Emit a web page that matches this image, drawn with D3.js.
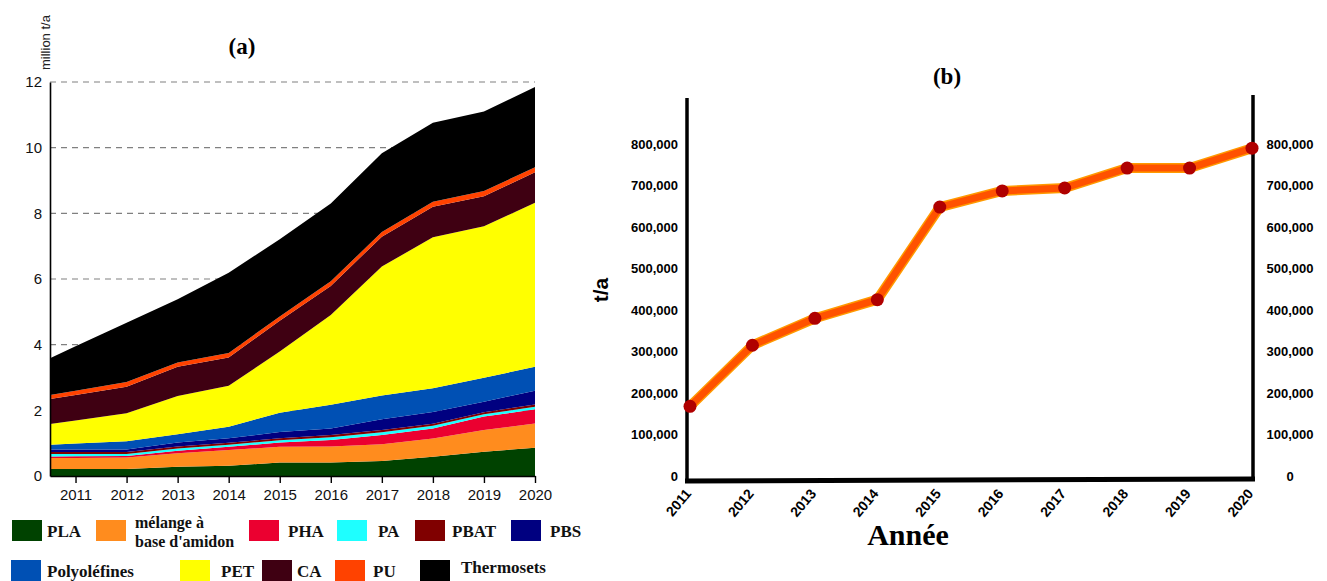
<!DOCTYPE html>
<html>
<head>
<meta charset="utf-8">
<script src="https://cdn.jsdelivr.net/npm/d3@7"></script>
<style>
  body { margin: 0; background: #fff; }
  svg { display: block; }
</style>
</head>
<body>
<div id="viz"></div>
<script>
// ── DATA ─────────────────────────────────────────────────────────────────────
const years = [2011, 2012, 2013, 2014, 2015, 2016, 2017, 2018, 2019, 2020];

// panel (a): million t/a, stacked from the bottom
const PLA        = [0.21, 0.21, 0.28, 0.31, 0.41, 0.41, 0.46, 0.59, 0.74, 0.86];
const starch     = [0.34, 0.35, 0.41, 0.48, 0.48, 0.49, 0.51, 0.55, 0.66, 0.74];
const PHA        = [0.05, 0.05, 0.08, 0.10, 0.13, 0.20, 0.28, 0.31, 0.41, 0.43];
const PA         = [0.07, 0.06, 0.07, 0.06, 0.07, 0.08, 0.08, 0.08, 0.07, 0.08];
const PBAT       = [0.06, 0.06, 0.06, 0.06, 0.06, 0.07, 0.07, 0.06, 0.06, 0.07];
const PBS        = [0.08, 0.08, 0.12, 0.14, 0.19, 0.20, 0.33, 0.36, 0.32, 0.42];
const polyolef   = [0.18, 0.25, 0.25, 0.35, 0.59, 0.72, 0.72, 0.72, 0.73, 0.73];
const PET        = [0.70, 0.85, 1.17, 1.25, 1.86, 2.73, 3.93, 4.60, 4.62, 4.99];
const CA         = [0.78, 0.81, 0.89, 0.86, 0.94, 0.89, 0.91, 0.93, 0.91, 0.93];
const PU         = [0.13, 0.14, 0.13, 0.14, 0.13, 0.14, 0.14, 0.15, 0.16, 0.15];
const thermosets = [1.35, 1.81, 1.92, 2.44, 2.35, 2.37, 2.40, 2.41, 2.42, 2.45];

const seriesKeys   = ["PLA", "starch", "PHA", "PA", "PBAT", "PBS", "polyolef", "PET", "CA", "PU", "thermosets"];
const seriesValues = [PLA, starch, PHA, PA, PBAT, PBS, polyolef, PET, CA, PU, thermosets];
const seriesColors = ["#004200", "#ff8c1e", "#eb0030", "#1effff", "#800000", "#000080",
                      "#0050b4", "#ffff00", "#3f0012", "#ff4200", "#000000"];
const legendLabels = ["PLA", "mélange à|base d'amidon", "PHA", "PA", "PBAT", "PBS",
                      "Polyoléfines", "PET", "CA", "PU", "Thermosets"];
const yTicksA = [0, 2, 4, 6, 8, 10, 12];

// panel (b): t/a
const production = [168000, 315000, 380000, 425000, 648000, 687000, 694000, 742000, 742000, 790000];
const yTicksB = [0, 100000, 200000, 300000, 400000, 500000, 600000, 700000, 800000];

// ── SETTINGS ────────────────────────────────────────────────────────────────
const width = 1327, height = 581;
const svg = d3.select("#viz").append("svg")
    .attr("viewBox", [0, 0, width, height])
    .attr("width", width)
    .attr("height", height);

const sans = "'Liberation Sans', Arial, sans-serif";
const serif = "'Liberation Serif', 'Times New Roman', serif";

// ── PANEL (a) ───────────────────────────────────────────────────────────────
const xA = d3.scaleLinear().domain([2010.5, 2020]).range([50, 535]);
const yA = d3.scaleLinear().domain([0, 12]).range([476, 82]);

// dashed grid
svg.append("g")
  .selectAll("line")
  .data(yTicksA.filter(d => d > 0))
  .join("line")
    .attr("x1", xA(2010.5)).attr("x2", xA(2020))
    .attr("y1", d => yA(d)).attr("y2", d => yA(d))
    .attr("stroke", "#808080")
    .attr("stroke-width", 1.2)
    .attr("stroke-dasharray", "6,5");

const rows = years.map((yr, i) => {
  const r = { year: yr };
  seriesKeys.forEach((k, j) => r[k] = seriesValues[j][i]);
  return r;
});
const stacked = d3.stack().keys(seriesKeys)(rows);

// the plot starts half a year before 2011, the band is carried on to the axis
const layers = stacked.map(s => {
  const pts = s.map(d => ({ x: d.data.year, lo: d[0], hi: d[1] }));
  const a = pts[0], b = pts[1];
  pts.unshift({ x: 2010.5, lo: a.lo - (b.lo - a.lo) / 2, hi: a.hi - (b.hi - a.hi) / 2 });
  return pts;
});

const area = d3.area()
    .x(d => xA(d.x))
    .y0(d => yA(d.lo))
    .y1(d => yA(d.hi));

svg.append("g")
  .selectAll("path")
  .data(layers)
  .join("path")
    .attr("d", area)
    .attr("fill", (d, i) => seriesColors[i]);

// axes
svg.append("g")
    .attr("transform", `translate(0,${yA(0)})`)
    .call(d3.axisBottom(xA).tickValues(years).tickFormat(d3.format("d")).tickSize(7).tickSizeOuter(0))
    .call(g => g.select(".domain").attr("stroke-width", 1.6))
    .call(g => g.selectAll(".tick line").attr("stroke-width", 1.4))
    .call(g => g.selectAll("text").attr("font-family", sans).attr("font-size", 15)
                .attr("fill", "#111").attr("dy", "0.9em"));

svg.append("g")
    .attr("transform", `translate(${xA(2010.5)},0)`)
    .call(d3.axisLeft(yA).tickValues(yTicksA).tickSize(0).tickPadding(8).tickSizeOuter(0))
    .call(g => g.select(".domain").attr("stroke-width", 1.6))
    .call(g => g.selectAll("text").attr("font-family", sans).attr("font-size", 15).attr("fill", "#111"));

svg.append("text")
    .attr("transform", "translate(50,70) rotate(-90)")
    .attr("font-family", sans)
    .attr("font-size", 13)
    .attr("fill", "#222")
    .text("million t/a");

svg.append("text")
    .attr("x", 242).attr("y", 54)
    .attr("text-anchor", "middle")
    .attr("font-family", serif)
    .attr("font-weight", "bold")
    .attr("font-size", 23)
    .text("(a)");

// legend
const legendLayout = [
  [12, 47, 0], [96, 135, 0], [249, 288, 0], [337, 378, 0], [415, 452, 0], [511, 550, 0],
  [11, 47, 1], [180, 221, 1], [262, 297, 1], [335, 373, 1], [420, 461, 1]
];
const legend = svg.append("g")
  .selectAll("g")
  .data(legendLabels)
  .join("g");

legend.append("rect")
    .attr("x", (d, i) => legendLayout[i][0])
    .attr("y", (d, i) => legendLayout[i][2] ? 560 : 520)
    .attr("width", 30)
    .attr("height", 21)
    .attr("fill", (d, i) => seriesColors[i]);

legend.each(function(d, i) {
  const lines = d.split("|");
  const row = legendLayout[i][2];
  const base = row ? 577 : 537;
  const t = d3.select(this).append("text")
      .attr("font-family", serif)
      .attr("font-weight", "bold")
      .attr("font-size", lines.length > 1 ? 16 : 17)
      .attr("fill", "#111");
  lines.forEach((ln, k) => {
    t.append("tspan")
      .attr("x", legendLayout[i][1])
      .attr("y", lines.length > 1 ? 528 + k * 19 : (i === 10 ? base - 4 : base))
      .text(ln);
  });
});

// ── PANEL (b) ───────────────────────────────────────────────────────────────
const xB = d3.scalePoint().domain(years).range([690, 1252]);
const yB = d3.scaleLinear().domain([0, 800000]).range([476, 144]);
const fmt = d3.format(",");

const labelStyle = g => g.attr("font-family", sans).attr("font-weight", "bold")
    .attr("font-size", 13).attr("fill", "#000");

svg.append("g")
  .selectAll("text")
  .data(yTicksB)
  .join("text")
    .attr("x", 678)
    .attr("y", d => yB(d))
    .attr("dy", "0.35em")
    .attr("text-anchor", "end")
    .call(labelStyle)
    .text(d => fmt(d));

svg.append("g")
  .selectAll("text")
  .data(yTicksB)
  .join("text")
    .attr("x", 1290)
    .attr("y", d => yB(d))
    .attr("dy", "0.35em")
    .attr("text-anchor", "middle")
    .call(labelStyle)
    .text(d => fmt(d));

// frame lines
svg.append("line").attr("x1", 687).attr("x2", 687).attr("y1", 98).attr("y2", 482)
    .attr("stroke", "#000").attr("stroke-width", 3.5);
svg.append("line").attr("x1", 1253).attr("x2", 1253).attr("y1", 95).attr("y2", 481)
    .attr("stroke", "#000").attr("stroke-width", 3.5);
svg.append("line").attr("x1", 685).attr("x2", 1255).attr("y1", 481).attr("y2", 479)
    .attr("stroke", "#000").attr("stroke-width", 5);

svg.append("g")
  .selectAll("text")
  .data(years)
  .join("text")
    .attr("transform", d => `translate(${xB(d) + 2},${494}) rotate(-50)`)
    .attr("text-anchor", "end")
    .call(labelStyle)
    .attr("font-size", 14)
    .text(d => d);

const line = d3.line()
    .x((d, i) => xB(years[i]))
    .y(d => yB(d));

svg.append("path")
    .datum(production)
    .attr("d", line)
    .attr("fill", "none")
    .attr("stroke", "#ff9a00")
    .attr("stroke-width", 10)
    .attr("stroke-linejoin", "round");

svg.append("path")
    .datum(production)
    .attr("d", line)
    .attr("fill", "none")
    .attr("stroke", "#ff5200")
    .attr("stroke-width", 7)
    .attr("stroke-linejoin", "round");

svg.append("g")
  .selectAll("circle")
  .data(production)
  .join("circle")
    .attr("cx", (d, i) => xB(years[i]))
    .attr("cy", d => yB(d))
    .attr("r", 6.5)
    .attr("fill", "#b00000");

svg.append("text")
    .attr("transform", "translate(608,290) rotate(-90)")
    .attr("text-anchor", "middle")
    .attr("font-family", sans)
    .attr("font-weight", "bold")
    .attr("font-size", 21)
    .text("t/a");

svg.append("text")
    .attr("x", 908).attr("y", 545)
    .attr("text-anchor", "middle")
    .attr("font-family", serif)
    .attr("font-weight", "bold")
    .attr("font-size", 30)
    .text("Année");

svg.append("text")
    .attr("x", 947).attr("y", 84)
    .attr("text-anchor", "middle")
    .attr("font-family", serif)
    .attr("font-weight", "bold")
    .attr("font-size", 23)
    .text("(b)");
</script>
</body>
</html>
